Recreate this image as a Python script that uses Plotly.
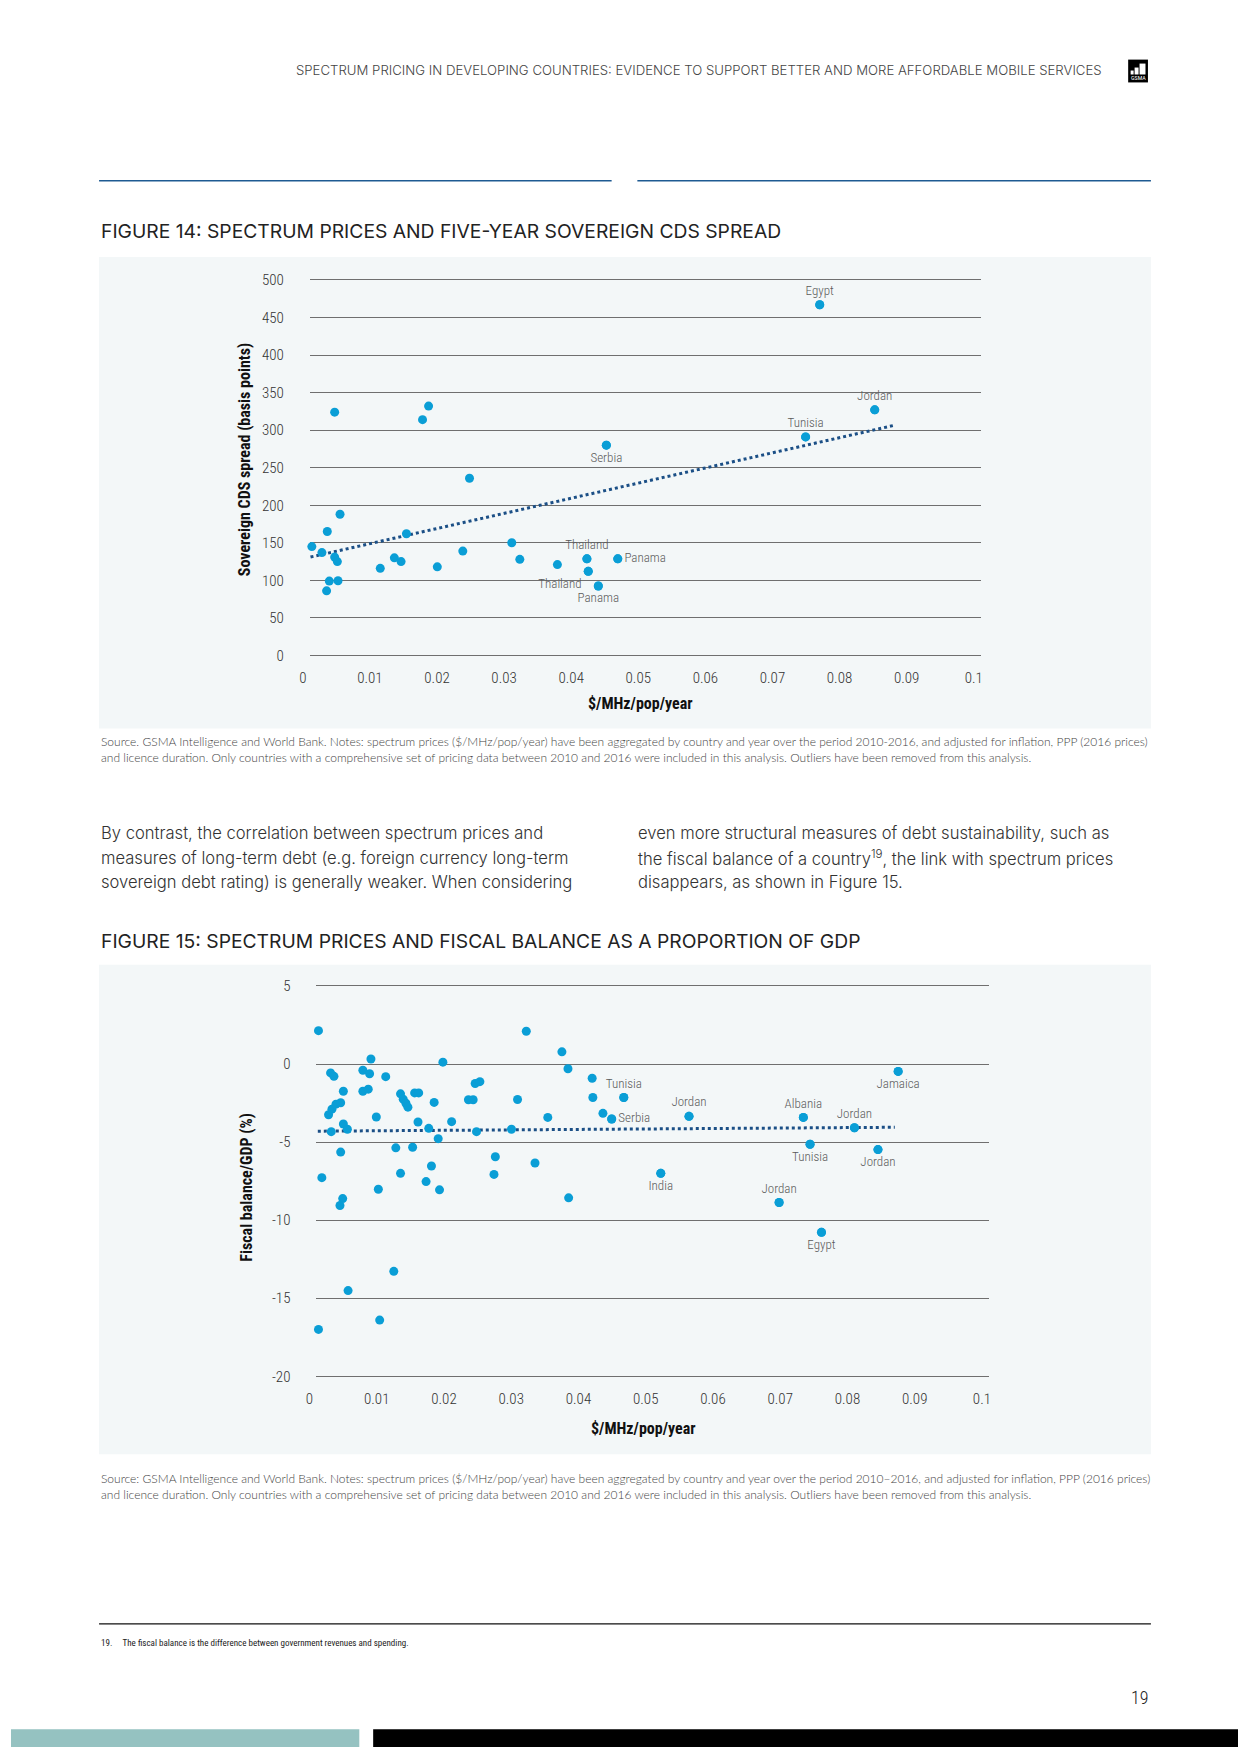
import plotly.graph_objects as go

W, H = 1240, 1754

# ---------------- DATA ----------------
# Figure 14: spectrum price ($/MHz/pop/year) vs 5-year sovereign CDS spread (basis points)
cds_x = [0.0003, 0.0018, 0.0037, 0.0026, 0.0045, 0.0037, 0.0041, 0.0029, 0.0042, 0.0025,
         0.0105, 0.0126, 0.0136, 0.0144, 0.0168, 0.0177, 0.0190, 0.0228, 0.0238, 0.0301,
         0.0313, 0.0369, 0.0413, 0.0415, 0.0430, 0.0442, 0.0459, 0.0739, 0.0760, 0.0842]
cds_y = [145, 137, 324, 165, 188, 131, 125, 99, 99.5, 86,
         116, 130, 125, 162, 314, 332, 118, 139, 236, 150,
         128, 121, 128.6, 112, 92.5, 280, 128.6, 291, 467, 327]
cds_names = [""] * 22 + ["Thailand", "Thailand", "Panama", "Serbia", "Panama",
                         "Tunisia", "Egypt", "Jordan"]
cds_trend_x = [0.0001, 0.0869]
cds_trend_y = [131, 306]

# Figure 15: spectrum price vs fiscal balance as % of GDP
fb_x = [0.0003, 0.0008, 0.0003, 0.0021, 0.0026, 0.0018, 0.0023, 0.0029, 0.0036, 0.0022,
        0.0040, 0.0040, 0.0046, 0.0036, 0.0039, 0.0035, 0.0047, 0.0069, 0.0079, 0.0081,
        0.0069, 0.0077, 0.0089, 0.0092, 0.0094, 0.0103, 0.0115, 0.0118, 0.0125, 0.0125,
        0.0129, 0.0133, 0.0136, 0.0143, 0.0146, 0.0152, 0.0151, 0.0163, 0.0167, 0.0171,
        0.0175, 0.0181, 0.0183, 0.0188, 0.0201, 0.0226, 0.0233, 0.0236, 0.0243, 0.0238,
        0.0266, 0.0264, 0.0290, 0.0299, 0.0312, 0.0325, 0.0344, 0.0365, 0.0374, 0.0375,
        0.0410, 0.0411, 0.0426, 0.0439, 0.0457, 0.0554, 0.0512, 0.0724, 0.0734, 0.0688,
        0.0751, 0.0800, 0.0835, 0.0865]
fb_y = [2.14, -7.28, -17.0, -0.57, -0.79, -3.25, -2.89, -2.57, -2.48, -4.33,
        -1.74, -3.84, -4.18, -5.64, -8.62, -9.06, -14.51, -0.40, -0.62, 0.32,
        -1.74, -1.61, -3.39, -8.02, -16.4, -0.81, -13.28, -5.37, -7.0, -1.91,
        -2.25, -2.51, -2.76, -5.33, -1.85, -1.85, -3.71, -7.53, -4.12, -6.53,
        -2.46, -4.78, -8.06, 0.12, -3.69, -2.29, -2.29, -1.25, -1.13, -4.33,
        -5.94, -7.07, -4.18, -2.27, 2.10, -6.34, -3.42, 0.78, -0.30, -8.57,
        -0.91, -2.14, -3.16, -3.52, -2.14, -3.35, -7.0, -3.42, -5.14, -8.87,
        -10.78, -4.08, -5.48, -0.47]
fb_names = [""] * 63 + ["Serbia", "Tunisia", "Jordan", "India", "Albania", "Tunisia",
                        "Jordan", "Egypt", "Jordan", "Jordan", "Jamaica"]
fb_trend_x = [0.0002, 0.0860]
fb_trend_y = [-4.30, -4.05]

x_ticks = [0, 0.01, 0.02, 0.03, 0.04, 0.05, 0.06, 0.07, 0.08, 0.09, 0.1]
x_ticktext = ["0", "0.01", "0.02", "0.03", "0.04", "0.05", "0.06", "0.07", "0.08", "0.09", "0.1"]
cds_yticks = [0, 50, 100, 150, 200, 250, 300, 350, 400, 450, 500]
fb_yticks = [5, 0, -5, -10, -15, -20]
fb_yticktext = ["5", "0", "-5", "-10", "-15", "-20"]

# ---------------- STYLE ----------------
cds_label_pos = ["top center", "bottom left", "bottom center", "bottom center", "middle right",
                 "top center", "top center", "top center"]
fb_label_pos = ["middle right", "top center", "top center", "bottom center", "top center",
                "bottom center", "top center", "bottom center", "top center", "bottom center",
                "bottom center"]

DOT = "#0a9ed6"
TREND = "#1b4f86"
GRID = "#6f6f6f"
BOX = "#f3f7f8"
COND = "Roboto Condensed, Roboto, sans-serif"
BODY = "Inter, sans-serif"
SMALL = "Lato, sans-serif"


def px(x):
    return x / W


def py(y):
    return 1 - y / H


def ydom(y_lo_px, v_lo, y_hi_px, v_hi, r0, r1):
    ppu = (y_lo_px - y_hi_px) / (v_hi - v_lo)
    bottom = y_lo_px + (v_lo - r0) * ppu
    top = y_hi_px - (r1 - v_hi) * ppu
    return [py(bottom), py(top)]


fig = go.Figure()


def add_chart(xs, ys, names, positions, tx, ty, xa, ya):
    fig.add_trace(go.Scatter(
        x=tx, y=ty, mode="lines", xaxis=xa, yaxis=ya, hoverinfo="skip",
        line=dict(color=TREND, width=3, dash="dot"), showlegend=False))
    fig.add_trace(go.Scatter(
        x=xs, y=ys, mode="markers", xaxis=xa, yaxis=ya, cliponaxis=False,
        marker=dict(color=DOT, size=9, line=dict(width=0)), showlegend=False))
    lx = [x for x, n in zip(xs, names) if n]
    ly = [y for y, n in zip(ys, names) if n]
    ln = [n for n in names if n]
    fig.add_trace(go.Scatter(
        x=lx, y=ly, mode="markers+text", xaxis=xa, yaxis=ya, cliponaxis=False,
        text=ln, textposition=positions,
        marker=dict(color=DOT, size=9, line=dict(width=0)),
        textfont=dict(family=COND, size=13, color="#5a5a5a", weight=300), showlegend=False))


add_chart(cds_x, cds_y, cds_names, cds_label_pos, cds_trend_x, cds_trend_y, "x", "y")
add_chart(fb_x, fb_y, fb_names, fb_label_pos, fb_trend_x, fb_trend_y, "x2", "y2")

xcommon = dict(range=[0, 0.1], tickvals=x_ticks, ticktext=x_ticktext, showgrid=False,
               zeroline=False, showline=False, ticks="outside", ticklen=6,
               tickcolor="rgba(0,0,0,0)", ticklabelshift=-7,
               tickfont=dict(family=COND, size=15, color="#333333", weight=300),
               fixedrange=True)
ycommon = dict(showgrid=True, gridcolor=GRID, gridwidth=1, zeroline=False, showline=False,
               ticks="outside", ticklen=22, tickcolor="rgba(0,0,0,0)",
               tickfont=dict(family=COND, size=15, color="#333333", weight=300), fixedrange=True)

fig.update_layout(
    width=W, height=H, margin=dict(l=0, r=0, t=0, b=0),
    paper_bgcolor="white", plot_bgcolor="rgba(0,0,0,0)",
    xaxis=dict(domain=[px(302), px(980)], anchor="y", **xcommon),
    yaxis=dict(domain=ydom(654.3, 0, 276, 500, -3, 503), range=[-3, 503], tickvals=cds_yticks,
               anchor="x", **ycommon),
    xaxis2=dict(domain=[px(308.7), px(988.3)], anchor="y2", **xcommon),
    yaxis2=dict(domain=ydom(1380.5, -20, 987.3, 5, -20.15, 5.15), range=[-20.15, 5.15],
                tickvals=fb_yticks, ticktext=fb_yticktext, anchor="x2", **ycommon),
)

shapes = [
    # chart panels
    dict(type="rect", xref="paper", yref="paper", x0=px(89), x1=px(1152), y0=py(728), y1=py(253),
         fillcolor=BOX, line=dict(width=0), layer="below"),
    dict(type="rect", xref="paper", yref="paper", x0=px(89), x1=px(1152), y0=py(1459), y1=py(966),
         fillcolor=BOX, line=dict(width=0), layer="below"),
    # header rules
    dict(type="line", xref="paper", yref="paper", x0=px(89), x1=px(607), y0=py(176), y1=py(176),
         line=dict(color="#1e5a92", width=1.5)),
    dict(type="line", xref="paper", yref="paper", x0=px(633), x1=px(1152), y0=py(176), y1=py(176),
         line=dict(color="#1e5a92", width=1.5)),
    # footnote rule
    dict(type="line", xref="paper", yref="paper", x0=px(89), x1=px(1152), y0=py(1630), y1=py(1630),
         line=dict(color="#111111", width=1.2)),
    # bottom bars
    dict(type="rect", xref="paper", yref="paper", x0=0, x1=px(352), y0=0, y1=py(1736),
         fillcolor="#95c2c1", line=dict(width=0)),
    dict(type="rect", xref="paper", yref="paper", x0=px(366), x1=1, y0=0, y1=py(1736),
         fillcolor="#000000", line=dict(width=0)),
    # logo
    dict(type="rect", xref="paper", yref="paper", x0=px(1129), x1=px(1149), y0=py(77), y1=py(54),
         fillcolor="#000000", line=dict(width=0)),
]
for bx0, bx1, btop in [(1131.5, 1134.5, 65), (1135.5, 1139.5, 62), (1140.5, 1146.5, 58)]:
    shapes.append(dict(type="rect", xref="paper", yref="paper", x0=px(bx0), x1=px(bx1),
                       y0=py(69), y1=py(btop), fillcolor="white", line=dict(width=0)))
fig.update_layout(shapes=shapes)

ann = []


def text(x, y, s, size, family=BODY, color="#333333", xanchor="left", weight=None, angle=0):
    f = dict(family=family, size=size, color=color)
    if weight:
        f["weight"] = weight
    ann.append(dict(x=px(x), y=py(y), xref="paper", yref="paper", text=s, showarrow=False,
                    xanchor=xanchor, yanchor="middle", font=f, textangle=angle))


text(1105, 64, "SPECTRUM PRICING IN DEVELOPING COUNTRIES: EVIDENCE TO SUPPORT BETTER AND MORE AFFORDABLE MOBILE SERVICES",
     13.2, color="#444444", xanchor="right", weight=300)
text(1139, 72.5, "GSMA", 6, family=COND, color="white", xanchor="center")
text(89, 227, "FIGURE 14: SPECTRUM PRICES AND FIVE-YEAR SOVEREIGN CDS SPREAD", 19.3,
     color="#222222", weight=400)
text(89, 942, "FIGURE 15: SPECTRUM PRICES AND FISCAL BALANCE AS A PROPORTION OF GDP", 19.3,
     color="#222222", weight=400)

# axis titles
text(236, 457, "Sovereign CDS spread (basis points)", 16, family=COND, color="#111111",
     xanchor="center", weight=700, angle=-90)
text(636, 703, "$/MHz/pop/year", 16, family=COND, color="#111111", xanchor="center", weight=700)
text(238, 1190, "Fiscal balance/GDP (%)", 16, family=COND, color="#111111",
     xanchor="center", weight=700, angle=-90)
text(639, 1433, "$/MHz/pop/year", 16, family=COND, color="#111111", xanchor="center", weight=700)

src1 = ["Source. GSMA Intelligence and World Bank. Notes: spectrum prices ($/MHz/pop/year) have been aggregated by country and year over the period 2010-2016, and adjusted for inflation, PPP (2016 prices)",
        "and licence duration. Only countries with a comprehensive set of pricing data between 2010 and 2016 were included in this analysis. Outliers have been removed from this analysis."]
src2 = ["Source: GSMA Intelligence and World Bank. Notes: spectrum prices ($/MHz/pop/year) have been aggregated by country and year over the period 2010–2016, and adjusted for inflation, PPP (2016 prices)",
        "and licence duration. Only countries with a comprehensive set of pricing data between 2010 and 2016 were included in this analysis. Outliers have been removed from this analysis."]
for i, s in enumerate(src1):
    text(89, 741 + 16 * i, s, 12, family=SMALL, color="#444444", weight=300)
for i, s in enumerate(src2):
    text(89, 1483 + 16.5 * i, s, 12, family=SMALL, color="#444444", weight=300)

para_left = ["By contrast, the correlation between spectrum prices and",
             "measures of long-term debt (e.g. foreign currency long-term",
             "sovereign debt rating) is generally weaker. When considering"]
para_right = ["even more structural measures of debt sustainability, such as",
              "the fiscal balance of a country<sup>19</sup>, the link with spectrum prices",
              "disappears, as shown in Figure 15."]
for i, s in enumerate(para_left):
    text(89, 833 + 25 * i, s, 16.6, color="#333333", weight=300)
for i, s in enumerate(para_right):
    text(632, 833 + 25 * i, s, 16.6, color="#333333", weight=300)

text(89, 1649, "19.&nbsp;&nbsp;&nbsp;&nbsp;&nbsp;The fiscal balance is the difference between government revenues and spending.",
     9, family=COND, color="#222222")
text(1152, 1704, "19", 18, family=COND, color="#222222", xanchor="right", weight=300)

fig.update_layout(annotations=ann)

POST = ("document.documentElement.style.margin='0';document.body.style.margin='0';"
        "document.documentElement.style.overflow='hidden';document.body.style.overflow='hidden';")
fig.write_html("out.html", config={"displayModeBar": False}, post_script=POST)
